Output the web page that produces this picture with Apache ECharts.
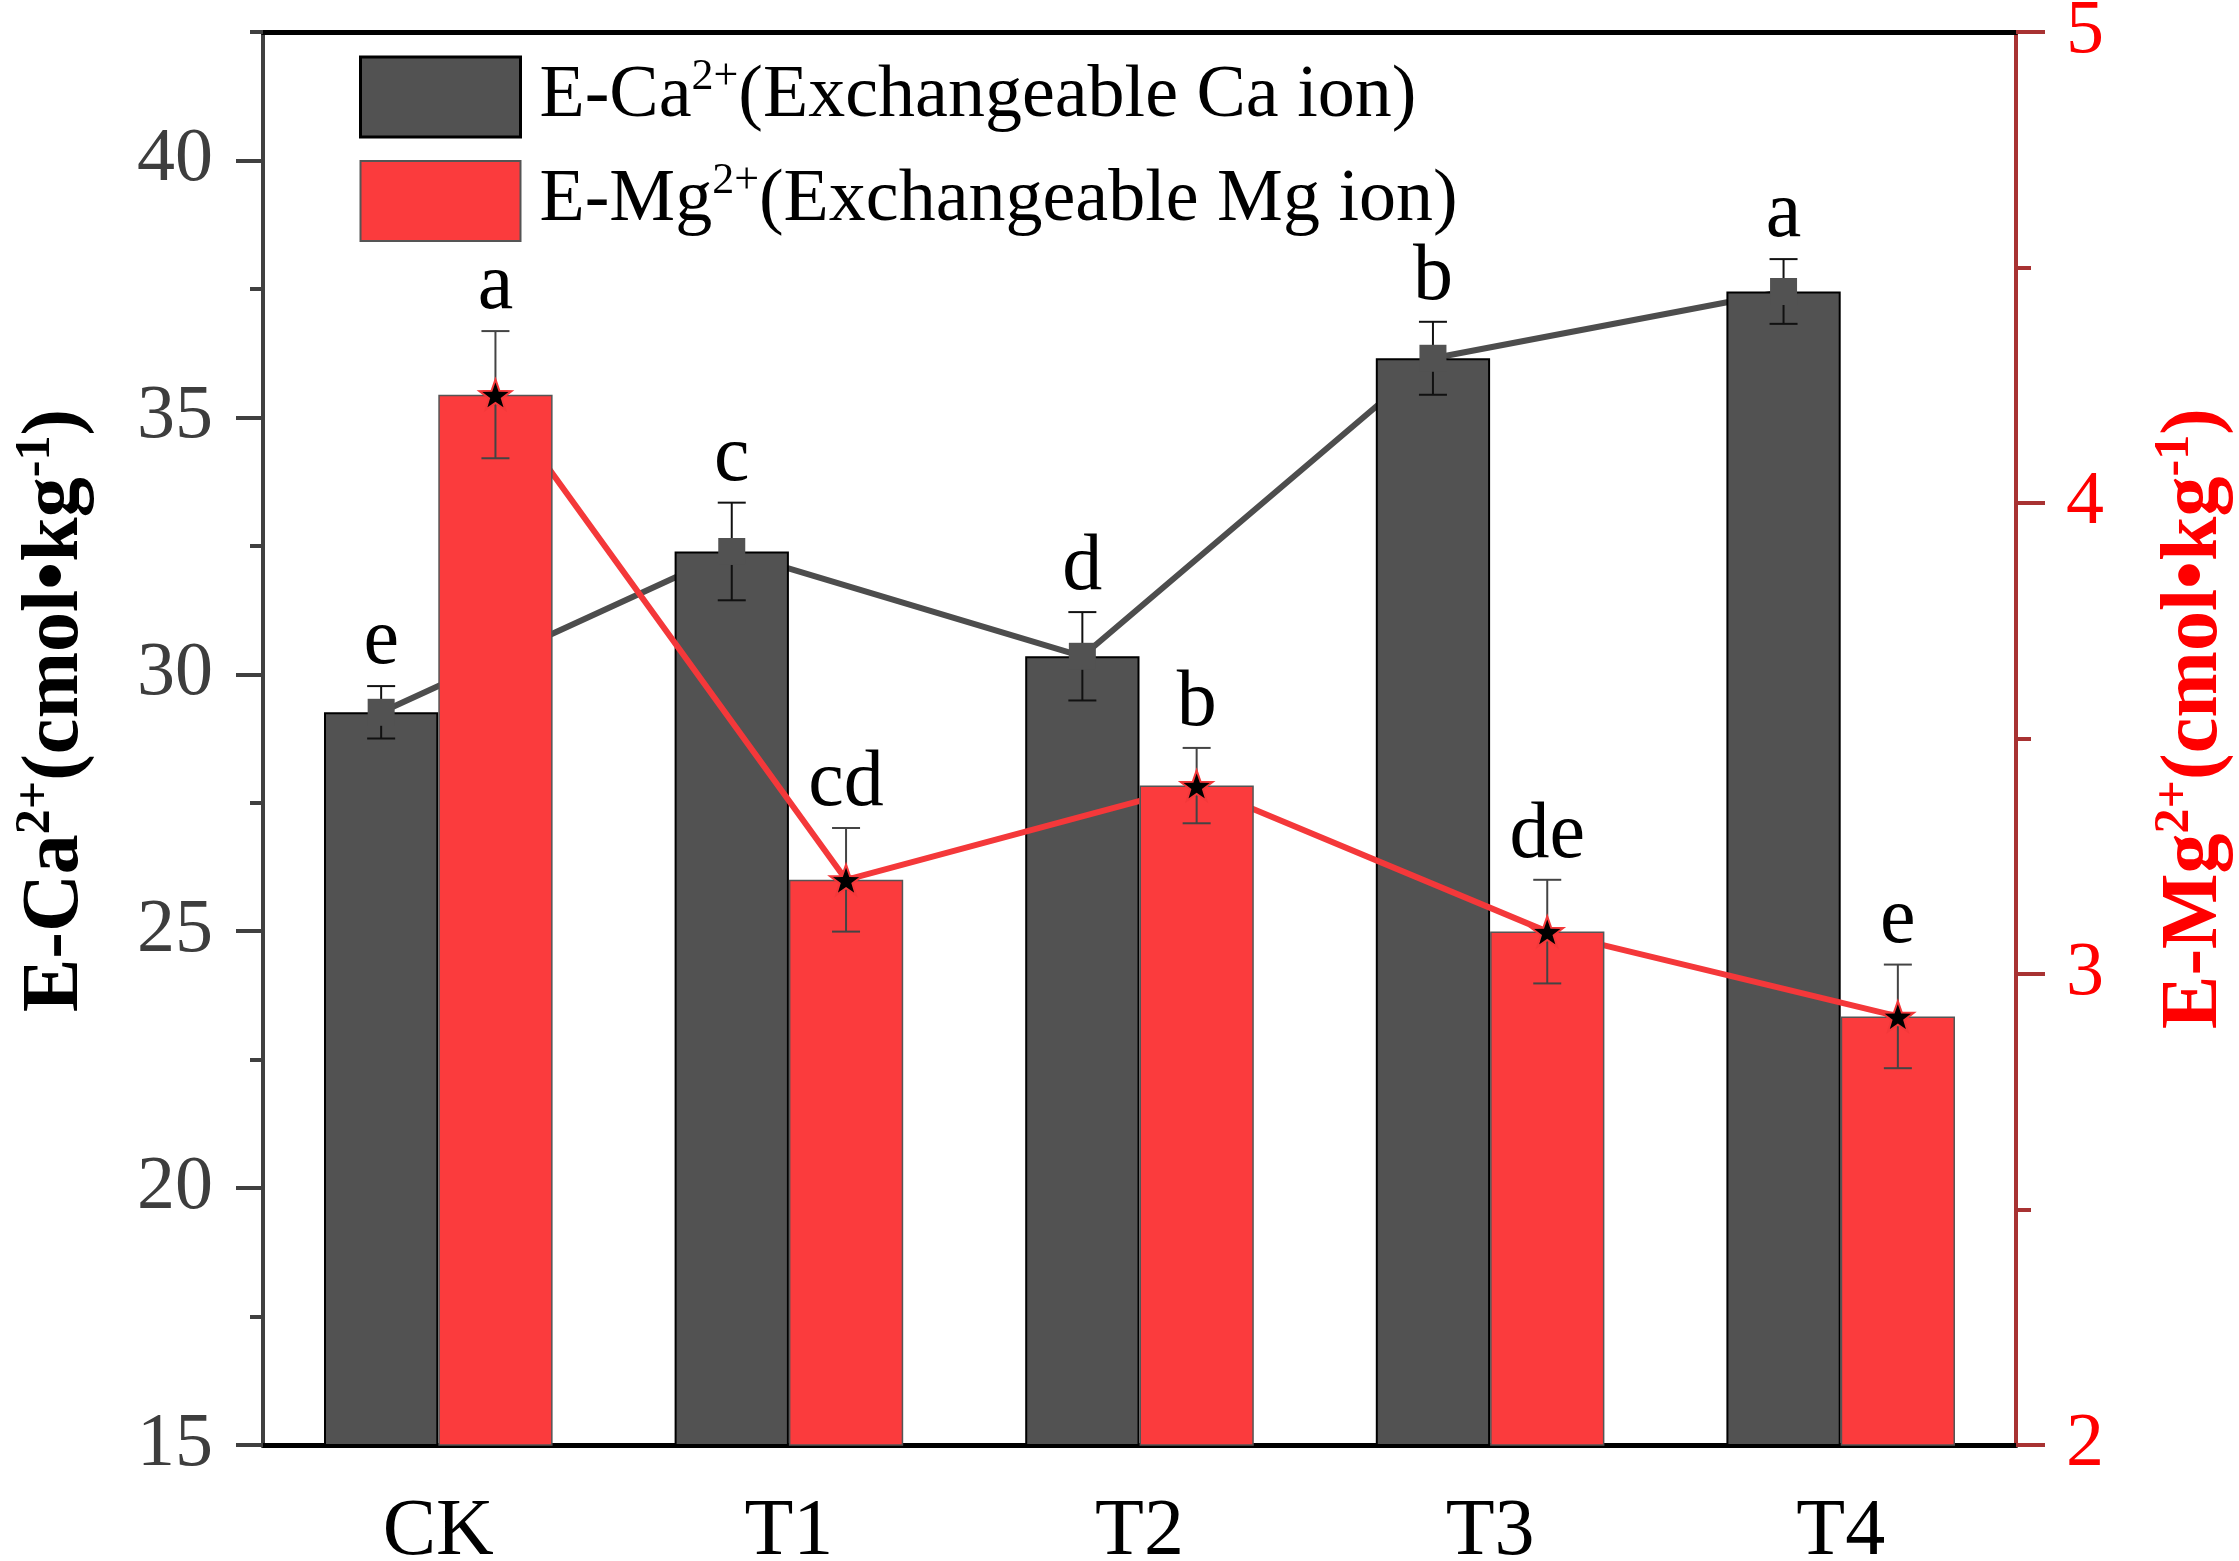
<!DOCTYPE html>
<html>
<head>
<meta charset="utf-8">
<title>E-Ca2+ and E-Mg2+</title>
<script src="https://cdn.jsdelivr.net/npm/echarts@6/dist/echarts.min.js"></script>
<style>
    html, body { margin: 0; padding: 0; background: #fff; }
    #chart { width: 2239px; height: 1561px; }
</style>
</head>
<body>
<div id="chart"></div>
<script>
// data
var categories = ["CK", "T1", "T2", "T3", "T4"];
var caValues = [29.26, 32.39, 30.35, 36.15, 37.45];   // E-Ca2+, left axis
var caErrors = [0.51, 0.95, 0.86, 0.71, 0.63];
var caLetters = ["e", "c", "d", "b", "a"];
var mgValues = [4.23, 3.20, 3.40, 3.09, 2.91];         // E-Mg2+, right axis
var mgErrors = [0.135, 0.11, 0.08, 0.11, 0.11];
var mgLetters = ["a", "cd", "b", "de", "e"];
var caTicks = [15, 20, 25, 30, 35, 40];
var mgTicks = [2, 3, 4, 5];

var FONT = "Liberation Serif";
var DARK = "#525252";
var RED = "#fb3b3d";
var barFrac = 0.326;   // bar width as part of the category band

// x position of a bar's centre on the hidden value axis
function atBar(values, side) {
    return values.map(function (v, i) {
        return [i + side * barFrac / 2, v];
    });
}

//误差棒 + 显著性字母
function errorSeries(name, values, errors, letters, side, yIndex, color) {
    return {
        name: name,
        type: "custom",
        xAxisIndex: 2,
        yAxisIndex: yIndex,
        z: 5,
        data: values.map(function (v, i) {
            return [i + side * barFrac / 2, v - errors[i], v + errors[i]];
        }),
        renderItem: function (params, api) {
            var top = api.coord([api.value(0), api.value(2)]);
            var bot = api.coord([api.value(0), api.value(1)]);
            var half = 14;
            var st = {stroke: color, lineWidth: 2};
            return {
                type: "group",
                children: [
                    {type: "line", shape: {x1: top[0], y1: top[1], x2: bot[0], y2: bot[1]}, style: st},
                    {type: "line", shape: {x1: top[0] - half, y1: top[1], x2: top[0] + half, y2: top[1]}, style: st},
                    {type: "line", shape: {x1: bot[0] - half, y1: bot[1], x2: bot[0] + half, y2: bot[1]}, style: st},
                    {
                        type: "text",
                        style: {
                            text: letters[params.dataIndex],
                            x: top[0],
                            y: top[1] - 4,
                            align: "center",
                            verticalAlign: "bottom",
                            fontSize: 80,
                            fontFamily: FONT,
                            fill: "#000"
                        }
                    }
                ]
            };
        }
    };
}

var supRich = function (color) {
    return {
        sup: {fontSize: 50, fontFamily: FONT, fontWeight: "bold", color: color, verticalAlign: "top", lineHeight: 50}
    };
};

var star = "path://M0,-10L2.35,-3.24L9.51,-3.09L3.8,1.24L5.88,8.09L0,4L-5.88,8.09L-3.8,1.24L-9.51,-3.09L-2.35,-3.24Z";

var option = {
    backgroundColor: "#fff",
    animation: false,
    grid: {left: 263, right: 223, top: 32, bottom: 116, containLabel: false, outerBoundsMode: "none"},
    legend: {
        left: 359,
        top: 55,
        padding: 0,
        orient: "vertical",
        itemGap: 20,
        itemWidth: 160,
        itemHeight: 80,
        icon: "rect",
        data: [
            {name: "E-Ca", itemStyle: {borderColor: "#000", borderWidth: 3}},
            {name: "E-Mg", itemStyle: {borderColor: "#555", borderWidth: 2}}
        ],
        formatter: function (name) {
            if (name === "E-Ca") {
                return "E-Ca{sup|2+}(Exchangeable Ca ion)";
            }
            return "E-Mg{sup|2+}(Exchangeable Mg ion)";
        },
        textStyle: {
            fontFamily: FONT,
            fontSize: 74,
            color: "#000",
            lineHeight: 84,
            padding: [0, 0, 0, 14],
            rich: {
                sup: {fontSize: 44, fontFamily: FONT, color: "#000", verticalAlign: "top", lineHeight: 44}
            }
        }
    },
    xAxis: [
        {
            type: "category",
            data: categories,
            position: "bottom",
            axisLine: {onZero: false, lineStyle: {color: "#000", width: 5}},
            axisTick: {alignWithLabel: true, length: 28, lineStyle: {color: "#000", width: 2.5}},
            axisLabel: {fontFamily: FONT, fontSize: 80, color: "#000", margin: 48},
            splitLine: {show: false}
        },
        {
            // short ticks on the category borders
            type: "category",
            data: categories,
            position: "bottom",
            axisLine: {show: false, onZero: false},
            axisTick: {length: 14, lineStyle: {color: "#000", width: 2.5}},
            axisLabel: {show: false},
            splitLine: {show: false}
        },
        {
            // hidden axis to place lines / markers / error bars at bar centres
            type: "value",
            min: -0.5,
            max: 4.5,
            show: false,
            axisLine: {onZero: false}
        },
        {
            // top frame line
            type: "value",
            position: "top",
            min: 0,
            max: 1,
            axisLine: {show: true, onZero: false, lineStyle: {color: "#000", width: 5}},
            axisTick: {show: false},
            axisLabel: {show: false},
            splitLine: {show: false}
        }
    ],
    yAxis: [
        {
            type: "value",
            position: "left",
            min: 15,
            max: 42.5,
            interval: 5,
            name: "E-Ca{sup|2+}(cmol•kg{sup|-1})",
            nameLocation: "middle",
            nameRotate: 90,
            nameGap: 162,
            nameTextStyle: {
                fontFamily: FONT, fontWeight: "bold", fontSize: 80, color: "#000", lineHeight: 90,
                padding: [0, 0, 0, 56],
                rich: supRich("#000")
            },
            axisLine: {show: true, onZero: false, lineStyle: {color: "#404040", width: 4}},
            axisTick: {customValues: caTicks, length: 27, lineStyle: {color: "#404040", width: 4}},
            axisLabel: {customValues: caTicks, fontFamily: FONT, fontSize: 76, color: "#3d3d3d", margin: 50},
            splitLine: {show: false}
        },
        {
            type: "value",
            position: "right",
            min: 2,
            max: 5,
            interval: 1,
            name: "E-Mg{sup|2+}(cmol•kg{sup|-1})",
            nameLocation: "middle",
            nameRotate: 90,
            nameGap: 134,
            nameTextStyle: {
                fontFamily: FONT, fontWeight: "bold", fontSize: 80, color: "#ff0000", lineHeight: 90,
                padding: [0, 0, 0, 40],
                rich: supRich("#ff0000")
            },
            axisLine: {show: true, onZero: false, lineStyle: {color: "#a83232", width: 4}},
            axisTick: {customValues: mgTicks, length: 29, lineStyle: {color: "#a83232", width: 4}},
            minorTick: {show: true, splitNumber: 2, length: 15, lineStyle: {color: "#a83232", width: 4}},
            axisLabel: {fontFamily: FONT, fontSize: 76, color: "#ff0000", margin: 50},
            splitLine: {show: false},
            minorSplitLine: {show: false}
        },
        {
            // short ticks of the left axis
            type: "value",
            position: "left",
            min: 15,
            max: 42.5,
            interval: 2.5,
            axisLine: {show: false, onZero: false},
            axisTick: {length: 13, lineStyle: {color: "#404040", width: 4}},
            axisLabel: {show: false},
            splitLine: {show: false}
        }
    ],
    series: [
        {
            name: "Ca line",
            type: "line",
            xAxisIndex: 2,
            yAxisIndex: 0,
            z: 1,
            data: atBar(caValues, -1),
            showSymbol: false,
            lineStyle: {color: "#4d4d4d", width: 6}
        },
        {
            name: "E-Ca",
            type: "bar",
            xAxisIndex: 0,
            yAxisIndex: 0,
            z: 2,
            barWidth: (barFrac * 100) + "%",
            barGap: "0%",
            data: caValues,
            itemStyle: {color: DARK, borderColor: "#000", borderWidth: 2}
        },
        {
            name: "Mg line",
            type: "line",
            xAxisIndex: 2,
            yAxisIndex: 1,
            z: 3,
            data: atBar(mgValues, 1),
            showSymbol: false,
            lineStyle: {color: "#f4383a", width: 6}
        },
        {
            name: "E-Mg",
            type: "bar",
            xAxisIndex: 0,
            yAxisIndex: 1,
            z: 4,
            barWidth: (barFrac * 100) + "%",
            barGap: "0%",
            data: mgValues,
            itemStyle: {color: RED, borderColor: "#555", borderWidth: 1.5}
        },
        errorSeries("Ca err", caValues, caErrors, caLetters, -1, 0, "#111"),
        errorSeries("Mg err", mgValues, mgErrors, mgLetters, 1, 1, "#444"),
        {
            name: "Ca mark",
            type: "scatter",
            xAxisIndex: 2,
            yAxisIndex: 0,
            z: 6,
            symbol: "rect",
            symbolSize: 27,
            data: atBar(caValues, -1),
            itemStyle: {color: DARK, opacity: 1}
        },
        {
            name: "Mg mark",
            type: "scatter",
            xAxisIndex: 2,
            yAxisIndex: 1,
            z: 6,
            symbol: star,
            symbolKeepAspect: true,
            symbolSize: 32,
            data: atBar(mgValues, 1),
            itemStyle: {color: "#000", borderColor: "#f4383a", borderWidth: 2, opacity: 1}
        }
    ]
};

var chart = echarts.init(document.getElementById("chart"));
chart.setOption(option);
</script>
</body>
</html>
